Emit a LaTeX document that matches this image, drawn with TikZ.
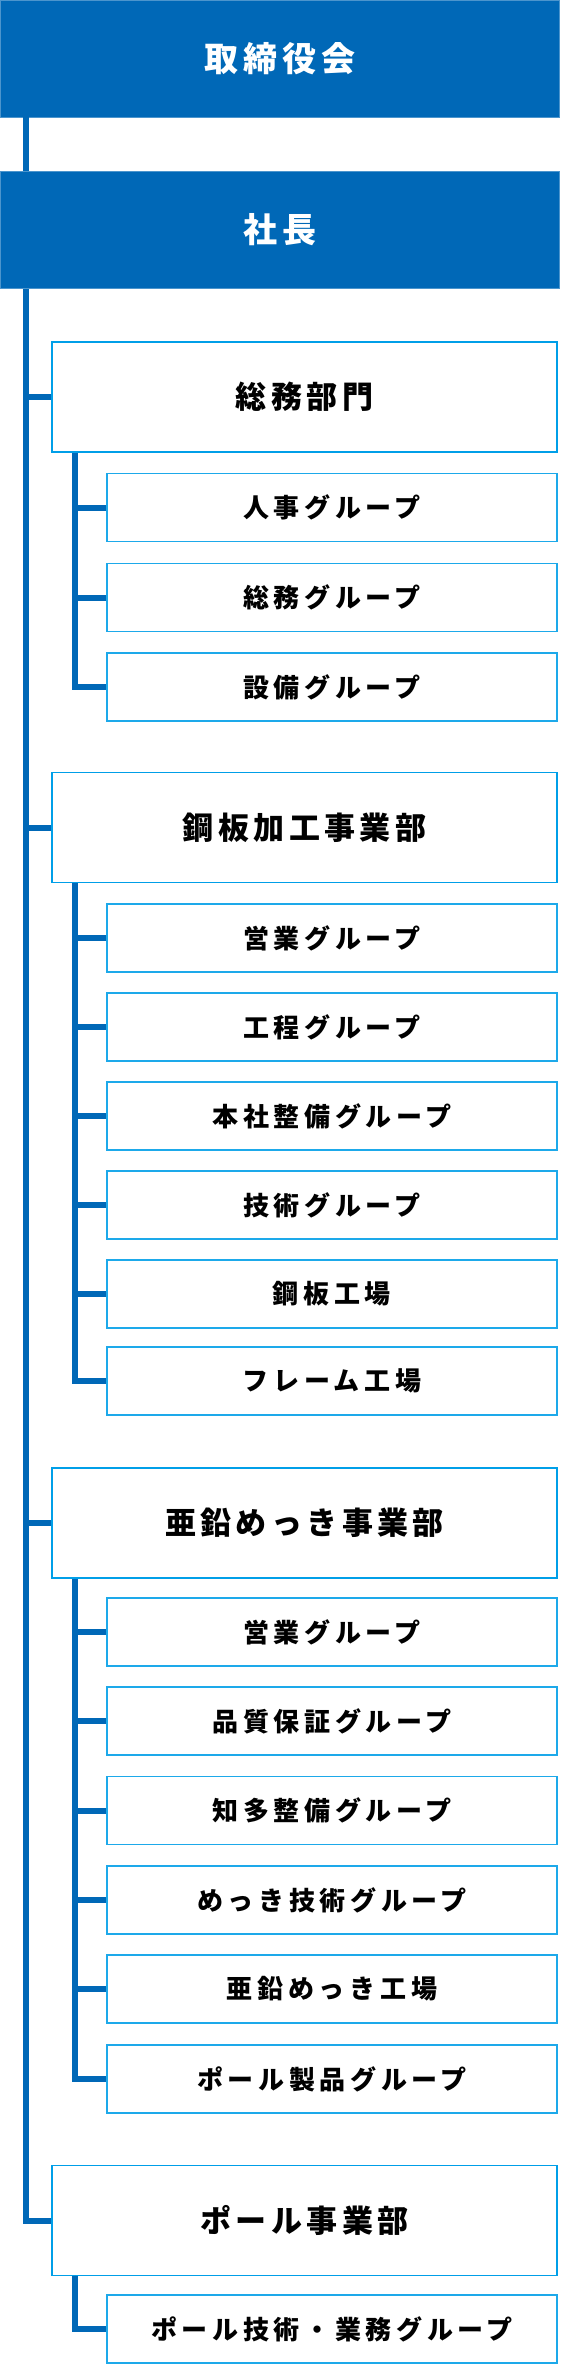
\documentclass[tikz,border=0pt]{standalone}
\usepackage{fontspec}
\setmainfont{Noto Sans CJK JP}
\usepackage{tikz}

\definecolor{topblue}{HTML}{0068B7}
\definecolor{deptline}{HTML}{009FE8}
\definecolor{grpline}{HTML}{1DA9EA}

\begin{document}
\begin{tikzpicture}[x=1pt, y=-1pt, inner sep=0pt,
  head/.style={rectangle, fill=topblue, draw=topblue!70!white, line width=0.8pt, minimum width=559pt, minimum height=117pt, text=white, font=\bfseries\fontsize{34}{34}\selectfont\addfontfeature{LetterSpace=14}},
  dept/.style={rectangle, draw=deptline, line width=1.5pt, fill=white, minimum width=505pt, minimum height=110pt, font=\bfseries\fontsize{31}{31}\selectfont\addfontfeature{LetterSpace=14}},
  grp/.style={rectangle, draw=grpline, line width=1.8pt, fill=white, minimum width=450pt, minimum height=68pt, font=\bfseries\fontsize{26}{26}\selectfont\addfontfeature{LetterSpace=18}},
  link/.style={draw=topblue, line width=6pt}]
\useasboundingbox (0,0) rectangle (560,2366);

\node[head] (board) at (280,58.5) {取締役会};
\node[head] (pres) at (280,230) {社長};

\node[dept] (d1) at (304.5,397) {総務部門};
\node[grp] (g11) at (332,507.5) {人事グループ};
\node[grp] (g12) at (332,597.5) {総務グループ};
\node[grp] (g13) at (332,687) {設備グループ};

\node[dept] (d2) at (304.5,827.5) {鋼板加工事業部};
\node[grp] (g21) at (332,938) {営業グループ};
\node[grp] (g22) at (332,1027) {工程グループ};
\node[grp] (g23) at (332,1116) {本社整備グループ};
\node[grp] (g24) at (332,1205) {技術グループ};
\node[grp] (g25) at (332,1294) {鋼板工場};
\node[grp] (g26) at (332,1381) {フレーム工場};

\node[dept] (d3) at (304.5,1523) {亜鉛めっき事業部};
\node[grp] (g31) at (332,1632) {営業グループ};
\node[grp] (g32) at (332,1721) {品質保証グループ};
\node[grp] (g33) at (332,1810.5) {知多整備グループ};
\node[grp] (g34) at (332,1900) {めっき技術グループ};
\node[grp] (g35) at (332,1989) {亜鉛めっき工場};
\node[grp] (g36) at (332,2079) {ポール製品グループ};

\node[dept] (d4) at (304.5,2220.5) {ポール事業部};
\node[grp] (g41) at (332,2329) {ポール技術・業務グループ};

% main trunk
\coordinate (t0) at ([xshift=26pt]board.south west);
\coordinate (t1) at ([xshift=26pt]pres.north west);
\coordinate (t2) at ([xshift=26pt]pres.south west);
\draw[link] (t0) -- (t1);
\draw[link] (t2) |- (d4.west);
\draw[link] (d1.west) -- (d1.west -| t2);
\draw[link] (d2.west) -- (d2.west -| t2);
\draw[link] (d3.west) -- (d3.west -| t2);

% group lines
\coordinate (s1) at ([xshift=23.5pt]d1.south west);
\draw[link] (s1) |- (g13.west);
\draw[link] (g11.west) -- (g11.west -| s1);
\draw[link] (g12.west) -- (g12.west -| s1);

\coordinate (s2) at ([xshift=23.5pt]d2.south west);
\draw[link] (s2) |- (g26.west);
\draw[link] (g21.west) -- (g21.west -| s2);
\draw[link] (g22.west) -- (g22.west -| s2);
\draw[link] (g23.west) -- (g23.west -| s2);
\draw[link] (g24.west) -- (g24.west -| s2);
\draw[link] (g25.west) -- (g25.west -| s2);

\coordinate (s3) at ([xshift=23.5pt]d3.south west);
\draw[link] (s3) |- (g36.west);
\draw[link] (g31.west) -- (g31.west -| s3);
\draw[link] (g32.west) -- (g32.west -| s3);
\draw[link] (g33.west) -- (g33.west -| s3);
\draw[link] (g34.west) -- (g34.west -| s3);
\draw[link] (g35.west) -- (g35.west -| s3);

\coordinate (s4) at ([xshift=23.5pt]d4.south west);
\draw[link] (s4) |- (g41.west);
\end{tikzpicture}
\end{document}
